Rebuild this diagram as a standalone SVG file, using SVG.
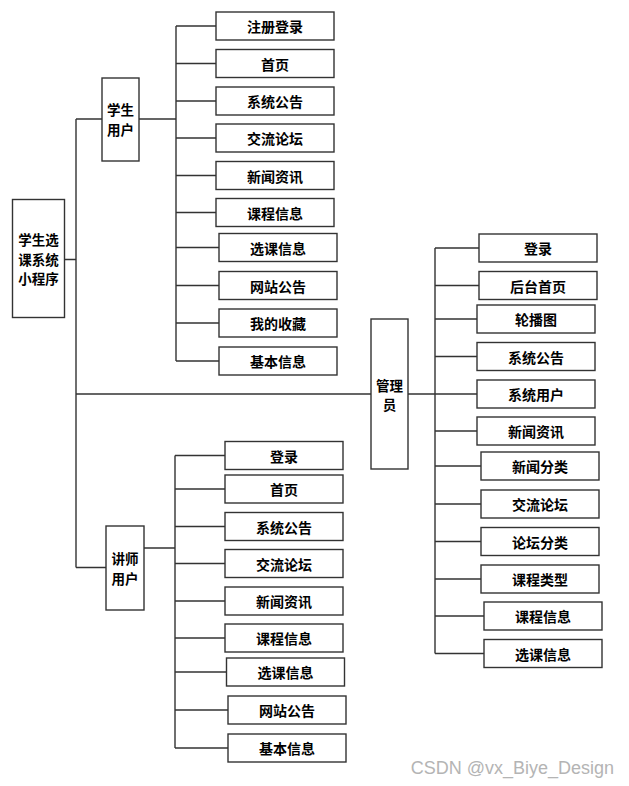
<svg xmlns="http://www.w3.org/2000/svg" width="629" height="786" viewBox="0 0 629 786">
<style>
.box{fill:#fff;stroke:#333;stroke-width:1.4}
.t{font-family:"Noto Sans CJK SC","Liberation Sans",sans-serif;font-size:14px;font-weight:bold;fill:#000;text-anchor:middle;dominant-baseline:central}
.m{font-size:13.5px}
.c{fill:none;stroke:#333;stroke-width:1.4}
.wm{font-family:"Liberation Sans","DejaVu Sans",sans-serif;font-size:18px;fill:#b4b4b4;text-anchor:end}
</style>
<rect width="629" height="786" fill="#fff"/>
<g id="connectors" class="c">
<path d="M65 259.5H76M76 119V567.5M76 119H102M76 394H371M76 567.5H106"/>
<path d="M139 119H176M176 26V361M176 26H216M176 63.5H216M176 101H216M176 138H216M176 175.5H216M176 212.5H216M176 247.5H219M176 285.5H219M176 323H219M176 361H219"/>
<path d="M408 394H435M435 248V653.5M435 248H479M435 285.5H479M435 319H477M435 356.5H477M435 394H477M435 431H477M435 466H481M435 504H481M435 541.5H481M435 579H481M435 616H484M435 653.5H484"/>
<path d="M144 548H175M175 455.5V748M175 455.5H225M175 489H225M175 526.5H225M175 563.5H225M175 601H225M175 638H225M175 672H226.5M175 710H228M175 748H228"/>
</g>
<g id="root"><rect class="box" x="12.5" y="199.5" width="52" height="118"/><text class="t m" x="38.5" y="239">学生选</text><text class="t m" x="38.5" y="258.6">课系统</text><text class="t m" x="38.5" y="278.2">小程序</text></g>
<g id="student"><rect class="box" x="102" y="78" width="37" height="83"/><text class="t m" x="120.5" y="109.2">学生</text><text class="t m" x="120.5" y="128.8">用户</text></g>
<g id="admin"><rect class="box" x="371" y="319" width="37" height="150"/><text class="t m" x="389.5" y="384.7">管理</text><text class="t m" x="389.5" y="404.3">员</text></g>
<g id="teacher"><rect class="box" x="106" y="526" width="38" height="84"/><text class="t m" x="125" y="558.2">讲师</text><text class="t m" x="125" y="577.8">用户</text></g>

<g id="s1"><rect class="box" x="216" y="12" width="118" height="28"/><text class="t" x="275" y="26">注册登录</text></g>
<g id="s2"><rect class="box" x="216" y="49.5" width="118" height="28"/><text class="t" x="275" y="63.5">首页</text></g>
<g id="s3"><rect class="box" x="216" y="87" width="118" height="28"/><text class="t" x="275" y="101">系统公告</text></g>
<g id="s4"><rect class="box" x="216" y="124" width="118" height="28"/><text class="t" x="275" y="138">交流论坛</text></g>
<g id="s5"><rect class="box" x="216" y="161.5" width="118" height="28"/><text class="t" x="275" y="175.5">新闻资讯</text></g>
<g id="s6"><rect class="box" x="216" y="198.5" width="118" height="28"/><text class="t" x="275" y="212.5">课程信息</text></g>
<g id="s7"><rect class="box" x="219" y="233.5" width="118" height="28"/><text class="t" x="278" y="247.5">选课信息</text></g>
<g id="s8"><rect class="box" x="219" y="271.5" width="118" height="28"/><text class="t" x="278" y="285.5">网站公告</text></g>
<g id="s9"><rect class="box" x="219" y="309" width="118" height="28"/><text class="t" x="278" y="323">我的收藏</text></g>
<g id="s10"><rect class="box" x="219" y="347" width="118" height="28"/><text class="t" x="278" y="361">基本信息</text></g>

<g id="a1"><rect class="box" x="479" y="234" width="118" height="28"/><text class="t" x="538" y="248">登录</text></g>
<g id="a2"><rect class="box" x="479" y="271.5" width="118" height="28"/><text class="t" x="538" y="285.5">后台首页</text></g>
<g id="a3"><rect class="box" x="477" y="305" width="118" height="28"/><text class="t" x="536" y="319">轮播图</text></g>
<g id="a4"><rect class="box" x="477" y="342.5" width="118" height="28"/><text class="t" x="536" y="356.5">系统公告</text></g>
<g id="a5"><rect class="box" x="477" y="380" width="118" height="28"/><text class="t" x="536" y="394">系统用户</text></g>
<g id="a6"><rect class="box" x="477" y="417" width="118" height="28"/><text class="t" x="536" y="431">新闻资讯</text></g>
<g id="a7"><rect class="box" x="481" y="452" width="118" height="28"/><text class="t" x="540" y="466">新闻分类</text></g>
<g id="a8"><rect class="box" x="481" y="490" width="118" height="28"/><text class="t" x="540" y="504">交流论坛</text></g>
<g id="a9"><rect class="box" x="481" y="527.5" width="118" height="28"/><text class="t" x="540" y="541.5">论坛分类</text></g>
<g id="a10"><rect class="box" x="481" y="565" width="118" height="28"/><text class="t" x="540" y="579">课程类型</text></g>
<g id="a11"><rect class="box" x="484" y="602" width="118" height="28"/><text class="t" x="543" y="616">课程信息</text></g>
<g id="a12"><rect class="box" x="484" y="639.5" width="118" height="28"/><text class="t" x="543" y="653.5">选课信息</text></g>

<g id="t1"><rect class="box" x="225" y="441.5" width="118" height="28"/><text class="t" x="284" y="455.5">登录</text></g>
<g id="t2"><rect class="box" x="225" y="475" width="118" height="28"/><text class="t" x="284" y="489">首页</text></g>
<g id="t3"><rect class="box" x="225" y="512.5" width="118" height="28"/><text class="t" x="284" y="526.5">系统公告</text></g>
<g id="t4"><rect class="box" x="225" y="549.5" width="118" height="28"/><text class="t" x="284" y="563.5">交流论坛</text></g>
<g id="t5"><rect class="box" x="225" y="587" width="118" height="28"/><text class="t" x="284" y="601">新闻资讯</text></g>
<g id="t6"><rect class="box" x="225" y="624" width="118" height="28"/><text class="t" x="284" y="638">课程信息</text></g>
<g id="t7"><rect class="box" x="226.5" y="658" width="118" height="28"/><text class="t" x="285.5" y="672">选课信息</text></g>
<g id="t8"><rect class="box" x="228" y="696" width="118" height="28"/><text class="t" x="287" y="710">网站公告</text></g>
<g id="t9"><rect class="box" x="228" y="734" width="118" height="28"/><text class="t" x="287" y="748">基本信息</text></g>

<text class="wm" x="614" y="774">CSDN @vx_Biye_Design</text>
</svg>
